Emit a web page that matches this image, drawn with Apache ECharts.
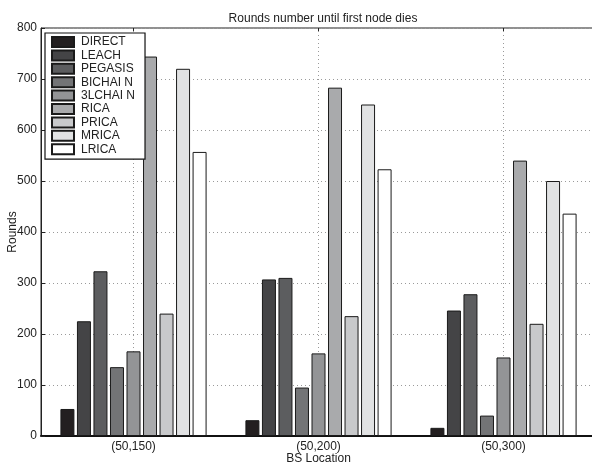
<!DOCTYPE html>
<html><head><meta charset="utf-8">
<script src="https://cdn.jsdelivr.net/npm/echarts@6/dist/echarts.min.js"></script>
<style>html,body{margin:0;padding:0;background:#fff}#c{width:592px;height:465px}</style>
</head><body><div id="c"></div>
<script>
const categories = ['(50,150)', '(50,200)', '(50,300)'];
const seriesNames = ['DIRECT', 'LEACH', 'PEGASIS', 'BICHAI N', '3LCHAI N', 'RICA', 'PRICA', 'MRICA', 'LRICA'];
const DIRECT  = [53, 31, 16];
const LEACH   = [225, 307, 246];
const PEGASIS = [323, 310, 278];
const BICHAIN = [135, 95, 40];
const LCHAIN3 = [166, 162, 154];
const RICA    = [744, 683, 540];
const PRICA   = [240, 235, 220];
const MRICA   = [720, 650, 500];
const LRICA   = [557, 523, 436];
const yTicks = [0, 100, 200, 300, 400, 500, 600, 700, 800];
const values = [DIRECT, LEACH, PEGASIS, BICHAIN, LCHAIN3, RICA, PRICA, MRICA, LRICA];
const colors = ['#231f20', '#444446', '#5c5d5f', '#737476', '#939496', '#a9aaac', '#c8c9cb', '#e1e2e3', '#ffffff'];

const font = 'Liberation Sans, Arial, sans-serif';
const chart = echarts.init(document.getElementById('c'));
const series = seriesNames.map((n, i) => ({
  name: n, type: 'bar', data: values[i], barWidth: 14, barGap: '18%',
  itemStyle: { color: colors[i], borderColor: '#1a1a1a', borderWidth: 1 },
  emphasis: { disabled: true }, z: 2
}));
series.push({
  type: 'line', data: [], z: 1, silent: true,
  markLine: {
    z: 1, silent: true, symbol: ['none', 'none'], label: { show: false },
    lineStyle: { color: '#9a9a9a', type: [1, 3], width: 1 },
    data: categories.map(c => ({ xAxis: c }))
  }
});
chart.setOption({
  animation: false,
  backgroundColor: '#fff',
  title: {
    text: 'Rounds number until first node dies', left: 318, top: 8, textAlign: 'center',
    textStyle: { fontFamily: font, fontSize: 12, fontWeight: 'normal', color: '#222' }
  },
  legend: {
    orient: 'vertical', left: 45, top: 33, padding: [3, 10, 4, 6],
    backgroundColor: '#fff', borderColor: '#111', borderWidth: 1.2, borderRadius: 0,
    icon: 'rect', itemWidth: 22, itemHeight: 10, itemGap: 1.4, selectedMode: false,
    data: seriesNames,
    textStyle: { fontFamily: font, fontSize: 12, color: '#222', padding: [0, 0, 0, 2] }
  },
  grid: { left: 41, top: 28, right: -4, bottom: 29, show: true, borderColor: '#222', borderWidth: 1,
    containLabel: false, outerBoundsMode: 'none' },
  xAxis: [{
    type: 'category', data: categories,
    name: 'BS Location', nameLocation: 'middle', nameGap: 17, nameMoveOverlap: false,
    nameTextStyle: { fontFamily: font, fontSize: 12, color: '#222', verticalAlign: 'top' },
    axisLine: { lineStyle: { color: '#111', width: 2 } },
    axisTick: { show: false },
    axisLabel: { fontFamily: font, fontSize: 12, color: '#222', margin: 5 },
    splitLine: { show: false }
  }, {
    type: 'category', data: categories, position: 'top',
    axisLine: { show: false },
    axisTick: { show: true, inside: true, alignWithLabel: true, length: 4, lineStyle: { color: '#222' } },
    axisLabel: { show: false }, splitLine: { show: false }
  }],
  yAxis: {
    type: 'value', min: 0, max: 800, interval: 100,
    name: 'Rounds', nameLocation: 'middle', nameGap: 22, nameMoveOverlap: false,
    nameTextStyle: { fontFamily: font, fontSize: 12, color: '#222' },
    axisLine: { show: true, lineStyle: { color: '#222', width: 1 } },
    axisTick: { show: true, inside: true, length: 4, lineStyle: { color: '#222' } },
    axisLabel: { fontFamily: font, fontSize: 12, color: '#222', margin: 4,
      formatter: v => yTicks.includes(v) ? String(v) : '' },
    splitLine: { show: true, lineStyle: { color: '#9a9a9a', type: [1, 3], width: 1 } }
  },
  series: series
});
</script></body></html>
